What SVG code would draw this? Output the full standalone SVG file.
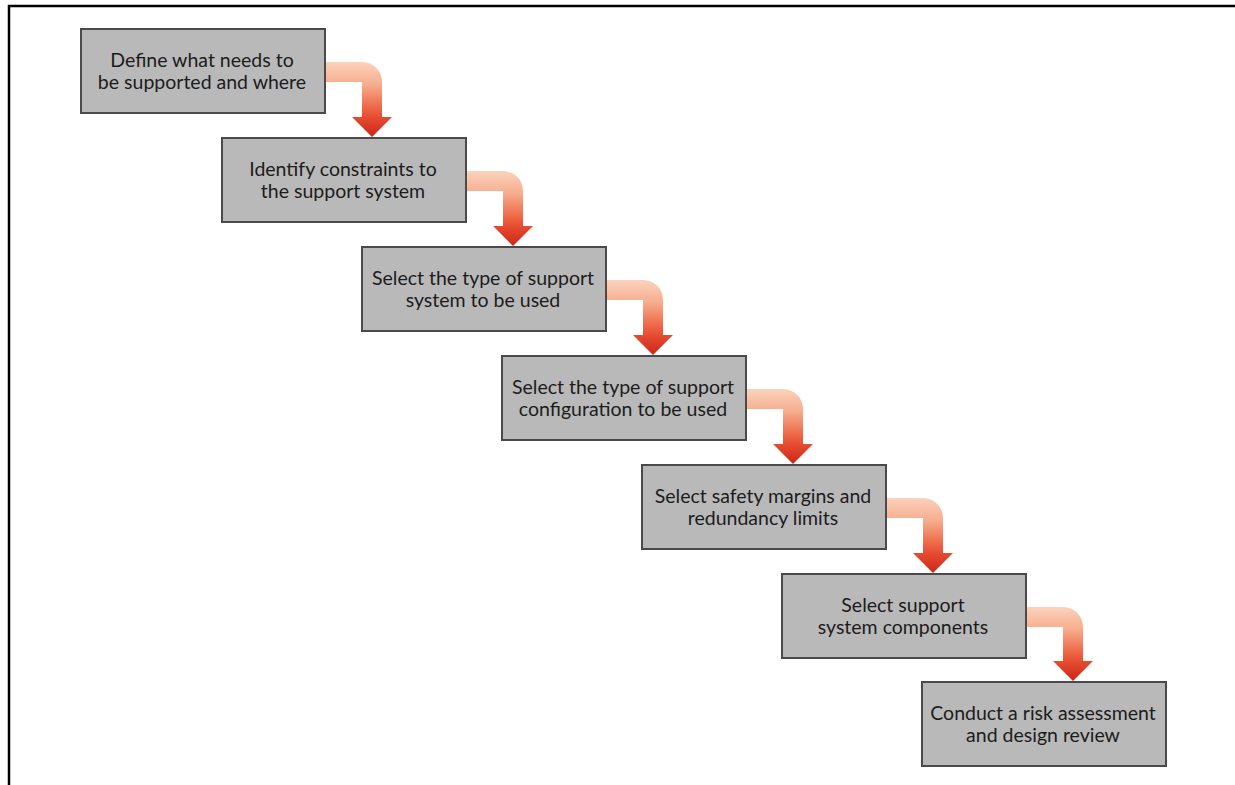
<svg xmlns="http://www.w3.org/2000/svg" width="1235" height="785" viewBox="0 0 1235 785">
<defs>
<linearGradient id="ag" x1="0" y1="0" x2="0" y2="1">
<stop offset="0" stop-color="#fbd2bc"/>
<stop offset="0.3" stop-color="#f6ad8e"/>
<stop offset="0.62" stop-color="#ed6544"/>
<stop offset="0.75" stop-color="#e54a30"/>
<stop offset="1" stop-color="#cc2618"/>
</linearGradient>
<style>
.box{fill:#b9b9b9;stroke:#4a4a4a;stroke-width:2}
.t{font-family:Lato,"Liberation Sans",sans-serif;font-size:19.5px;fill:#1c1c1c;text-anchor:middle}
.arr{fill:url(#ag)}
</style>
</defs>
<rect width="1235" height="785" fill="#fff"/>
<path d="M9,785 V6 H1235" fill="none" stroke="#000" stroke-width="2.5"/>
<g id="connectors">
<path class="arr" d="M325,62 H362 A20,20 0 0 1 382,82 V117 H392 L372,137 L352,117 H362 V82 H325 Z"/>
<path class="arr" d="M466,171 H503 A20,20 0 0 1 523,191 V226 H533 L513,246 L493,226 H503 V191 H466 Z"/>
<path class="arr" d="M606,280 H643 A20,20 0 0 1 663,300 V335 H673 L653,355 L633,335 H643 V300 H606 Z"/>
<path class="arr" d="M746,389 H783 A20,20 0 0 1 803,409 V444 H813 L793,464 L773,444 H783 V409 H746 Z"/>
<path class="arr" d="M886,498 H923 A20,20 0 0 1 943,518 V553 H953 L933,573 L913,553 H923 V518 H886 Z"/>
<path class="arr" d="M1026,607 H1063 A20,20 0 0 1 1083,627 V661 H1093 L1073,681 L1053,661 H1063 V627 H1026 Z"/>
</g>
<g id="n1"><rect class="box" x="81" y="29" width="244" height="84"/><text class="t" x="202" y="66.5">Define what needs to</text><text class="t" x="202" y="88.5">be supported and where</text></g>
<g id="n2"><rect class="box" x="222" y="138" width="244" height="84"/><text class="t" x="343" y="175.5">Identify constraints to</text><text class="t" x="343" y="197.5">the support system</text></g>
<g id="n3"><rect class="box" x="362" y="247" width="244" height="84"/><text class="t" x="483" y="284.5">Select the type of support</text><text class="t" x="483" y="306.5">system to be used</text></g>
<g id="n4"><rect class="box" x="502" y="356" width="244" height="84"/><text class="t" x="623" y="393.5">Select the type of support</text><text class="t" x="623" y="415.5">configuration to be used</text></g>
<g id="n5"><rect class="box" x="642" y="465" width="244" height="84"/><text class="t" x="763" y="502.5">Select safety margins and</text><text class="t" x="763" y="524.5">redundancy limits</text></g>
<g id="n6"><rect class="box" x="782" y="574" width="244" height="84"/><text class="t" x="903" y="611.5">Select support</text><text class="t" x="903" y="633.5">system components</text></g>
<g id="n7"><rect class="box" x="922" y="682" width="244" height="84"/><text class="t" x="1043" y="719.5">Conduct a risk assessment</text><text class="t" x="1043" y="741.5">and design review</text></g>
</svg>
